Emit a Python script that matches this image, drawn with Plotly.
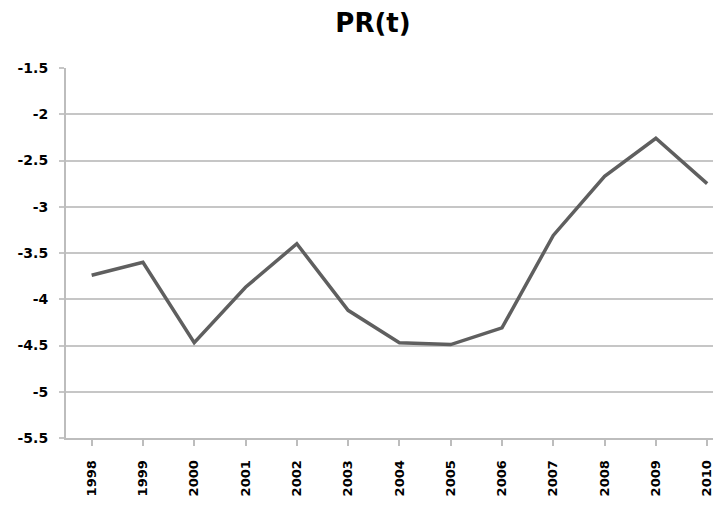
import plotly.graph_objects as go

years = ["1998", "1999", "2000", "2001", "2002", "2003", "2004",
         "2005", "2006", "2007", "2008", "2009", "2010"]
pr_values = [-3.74, -3.60, -4.47, -3.87, -3.40, -4.12, -4.47,
             -4.49, -4.31, -3.31, -2.67, -2.26, -2.75]
y_ticks = [-5.5, -5, -4.5, -4, -3.5, -3, -2.5, -2, -1.5]
y_tick_labels = ["-5.5", "-5", "-4.5", "-4", "-3.5", "-3", "-2.5", "-2", "-1.5"]

# The page body adds an 8px offset, so the figure is sized to fill the rest.
W, H = 713, 498

fig = go.Figure()
fig.add_trace(go.Scatter(
    x=list(range(len(years))), y=pr_values, mode="lines",
    line=dict(color="#5f5f5f", width=3.5),
    hoverinfo="skip", showlegend=False,
))

fig.update_layout(
    width=W, height=H,
    margin=dict(l=58, r=0, t=60, b=68),
    paper_bgcolor="white", plot_bgcolor="white",
    font=dict(family="DejaVu Sans", color="black"),
    title=dict(text="<b>PR(t)</b>", x=365/W, xanchor="center",
               xref="container", y=1 - 15/H, yanchor="middle",
               yref="container", automargin=False,
               font=dict(family="DejaVu Sans", size=26, color="black")),
)
fig.update_xaxes(
    range=[-0.5, 12.27], automargin=False,
    tickmode="array", tickvals=list(range(len(years))), ticktext=years,
    tickangle=-90, tickfont=dict(size=13, weight="bold"),
    ticklabelstandoff=9,
    showgrid=False, zeroline=False,
    showline=True, linecolor="#bdbdbd", linewidth=2,
    ticks="outside", ticklen=6, tickcolor="#bdbdbd", tickwidth=1.5,
    tickson="boundaries",
    fixedrange=True,
)
fig.update_yaxes(
    range=[-5.5, -1.5], automargin=False,
    tickmode="array", tickvals=y_ticks, ticktext=y_tick_labels,
    tickfont=dict(size=14, weight="bold"),
    ticklabelstandoff=8,
    showgrid=True, gridcolor="#c6c6c6", gridwidth=1.5,
    zeroline=False,
    showline=True, linecolor="#bdbdbd", linewidth=2,
    ticks="outside", ticklen=5, tickcolor="#c6c6c6", tickwidth=1.5,
    fixedrange=True,
)

fig.write_html("out.html")
